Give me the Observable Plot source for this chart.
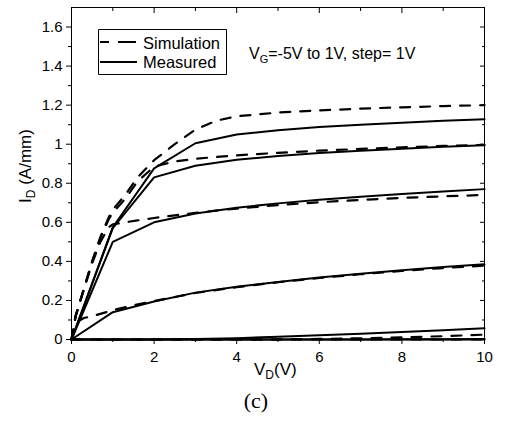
<!DOCTYPE html>
<html><head><meta charset="utf-8">
<script src="https://cdn.jsdelivr.net/npm/d3@7"></script>
<script src="https://cdn.jsdelivr.net/npm/@observablehq/plot@0.6"></script>
<style>
html,body{margin:0;padding:0;background:#fff;}
#chart svg{display:block;}
</style>
</head><body><div id="chart"></div>
<script>
// ---- data (VD in V, ID in A/mm) ----
const vdMeas = [0, 1, 2, 3, 4, 5, 6, 7, 8, 9, 10];
const idMeasVg1  = [0, 0.575, 0.876, 1.005, 1.05, 1.072, 1.088, 1.100, 1.110, 1.120, 1.128];
const idMeasVg0  = [0, 0.57, 0.83, 0.89, 0.92, 0.94, 0.955, 0.967, 0.977, 0.987, 0.995];
const idMeasVgm1 = [0, 0.50, 0.60, 0.645, 0.675, 0.697, 0.715, 0.731, 0.745, 0.758, 0.77];
const idMeasVgm2 = [0, 0.14, 0.195, 0.24, 0.27, 0.295, 0.318, 0.337, 0.355, 0.371, 0.385];
const idMeasVgm3 = [0, 0, 0, 0.002, 0.007, 0.014, 0.022, 0.03, 0.039, 0.048, 0.057];
const idMeasVgm4 = [0, 0, 0, 0, 0, 0, 0, 0, 0.001, 0.001, 0.002];
const idMeasVgm5 = [0, 0, 0, 0, 0, 0, 0, 0, 0, 0, 0];

const vdSimA = [0, 0.1, 0.3, 0.5, 0.7, 0.9, 1.0, 1.3, 1.6, 2, 2.5, 3, 3.5, 4, 5, 6, 7, 8, 9, 10];
const idSimVg1  = [0, 0.12, 0.26, 0.40, 0.525, 0.625, 0.665, 0.74, 0.83, 0.918, 1.0, 1.075, 1.12, 1.143, 1.162, 1.173, 1.182, 1.189, 1.195, 1.2];
const idSimVg0  = [0, 0.12, 0.26, 0.40, 0.52, 0.615, 0.65, 0.72, 0.81, 0.885, 0.912, 0.925, 0.935, 0.943, 0.956, 0.967, 0.976, 0.984, 0.991, 0.997];
const idSimVgm1 = [0, 0.12, 0.255, 0.39, 0.50, 0.575, 0.59, 0.60, 0.61, 0.622, 0.636, 0.648, 0.66, 0.67, 0.688, 0.703, 0.715, 0.725, 0.733, 0.74];
const vdSimB = [0, 0.1, 0.3, 0.6, 1, 1.5, 2, 3, 4, 5, 6, 7, 8, 9, 10];
const idSimVgm2 = [0, 0.085, 0.11, 0.125, 0.15, 0.175, 0.197, 0.238, 0.268, 0.293, 0.315, 0.334, 0.351, 0.366, 0.378];
const vdSimC = [0, 1, 2, 3, 4, 5, 6, 7, 8, 9, 10];
const idSimVgm3 = [0, 0, 0, 0, 0, 0.001, 0.003, 0.006, 0.011, 0.017, 0.025];
const idSimVgm4 = [0, 0, 0, 0, 0, 0, 0, 0, 0, 0, 0];

const xMajor = [0, 2, 4, 6, 8, 10];
const xMinor = [1, 3, 5, 7, 9];
const yMajor = [0, 0.2, 0.4, 0.6, 0.8, 1, 1.2, 1.4, 1.6];
const yMinor = [0.1, 0.3, 0.5, 0.7, 0.9, 1.1, 1.3, 1.5];

// ---- build tables ----
function series(xs, ys, name) { return xs.map((v, i) => ({vd: v, id: ys[i], curve: name})); }
const measured = [
  ...series(vdMeas, idMeasVg1, "m1"), ...series(vdMeas, idMeasVg0, "m0"),
  ...series(vdMeas, idMeasVgm1, "m-1"), ...series(vdMeas, idMeasVgm2, "m-2"),
  ...series(vdMeas, idMeasVgm3, "m-3"), ...series(vdMeas, idMeasVgm4, "m-4"),
  ...series(vdMeas, idMeasVgm5, "m-5")
];
const simulated = [
  ...series(vdSimA, idSimVg1, "s1"), ...series(vdSimA, idSimVg0, "s0"),
  ...series(vdSimA, idSimVgm1, "s-1"), ...series(vdSimB, idSimVgm2, "s-2"),
  ...series(vdSimC, idSimVgm3, "s-3"), ...series(vdSimC, idSimVgm4, "s-4")
];

const FONT = "'Liberation Sans', Arial, Helvetica, sans-serif";
const fmt = d3.format("~g");
const blank = () => "";

const chart = Plot.plot({
  width: 514, height: 422,
  marginLeft: 71, marginRight: 30, marginTop: 7, marginBottom: 83,
  style: {fontFamily: FONT, background: "#fff", color: "#000"},
  x: {domain: [0, 10]},
  y: {domain: [0, 1.7]},
  marks: [
    Plot.line(simulated, {x: "vd", y: "id", z: "curve", stroke: "#000", strokeWidth: 2.2, strokeDasharray: "10,10"}),
    Plot.line(measured, {x: "vd", y: "id", z: "curve", stroke: "#000", strokeWidth: 2}),
    Plot.frame({stroke: "#000", strokeWidth: 1}),
    Plot.axisX(xMajor, {anchor: "bottom", tickSize: 5, tickPadding: 7, tickFormat: fmt, label: null, fontSize: 15}),
    Plot.axisX(xMinor, {anchor: "bottom", tickSize: 3, tickFormat: blank, label: null}),
    Plot.axisX(xMajor, {anchor: "top", tickSize: -5, tickFormat: blank, label: null}),
    Plot.axisX(xMinor, {anchor: "top", tickSize: -3, tickFormat: blank, label: null}),
    Plot.axisY(yMajor, {anchor: "left", tickSize: 5, tickPadding: 4, tickFormat: fmt, label: null, fontSize: 15}),
    Plot.axisY(yMinor, {anchor: "left", tickSize: 3, tickFormat: blank, label: null}),
    Plot.axisY(yMajor, {anchor: "right", tickSize: -5, tickFormat: blank, label: null}),
    Plot.axisY(yMinor, {anchor: "right", tickSize: -3, tickFormat: blank, label: null})
  ]
});
document.getElementById("chart").appendChild(chart);

// ---- labels, legend and annotation ----
const svg = d3.select(chart);
const g = svg.append("g")
  .attr("font-family", FONT).attr("fill", "#000").attr("text-anchor", "start")
  .style("font-family", FONT);

// y label
const yl = g.append("text").attr("transform", "translate(31,166) rotate(-90)")
  .attr("text-anchor", "middle").attr("font-size", 17);
yl.append("tspan").text("I");
yl.append("tspan").attr("font-size", 12).attr("dy", 4).text("D");
yl.append("tspan").attr("dy", -4).text(" (A/mm)");

// x label
const xl = g.append("text").attr("x", 254).attr("y", 375).attr("font-size", 17).attr("text-anchor", "start");
xl.append("tspan").text("V");
xl.append("tspan").attr("font-size", 12).attr("dy", 4).text("D");
xl.append("tspan").attr("dy", -4).text("(V)");

// caption
g.append("text").attr("x", 256).attr("y", 408).attr("text-anchor", "middle")
  .attr("font-family", "'Liberation Serif', 'Times New Roman', serif")
  .style("font-family", "'Liberation Serif', 'Times New Roman', serif")
  .attr("font-size", 22).text("(c)");

// legend
g.append("path")
  .attr("d", "M98.5,29.5H226.5V74.5H98.5Z")
  .style("fill", "#fff").style("stroke", "#000").style("stroke-width", "1px");
g.append("path").attr("d", "M100,42H137")
  .style("stroke", "#000").style("stroke-width", "2.2px").style("stroke-dasharray", "9,9,18").style("fill", "none");
g.append("path").attr("d", "M100,62H137")
  .style("stroke", "#000").style("stroke-width", "2.2px").style("fill", "none");
g.append("text").attr("x", 143).attr("y", 49).attr("font-size", 16.5).attr("text-anchor", "start").text("Simulation");
g.append("text").attr("x", 143).attr("y", 68).attr("font-size", 16.5).attr("text-anchor", "start").text("Measured");

// annotation
const an = g.append("text").attr("x", 249).attr("y", 59).attr("font-size", 16).attr("text-anchor", "start");
an.append("tspan").text("V");
an.append("tspan").attr("font-size", 11).attr("dy", 4).text("G");
an.append("tspan").attr("dy", -4).text("=-5V to 1V, step= 1V");
</script>
</body></html>
